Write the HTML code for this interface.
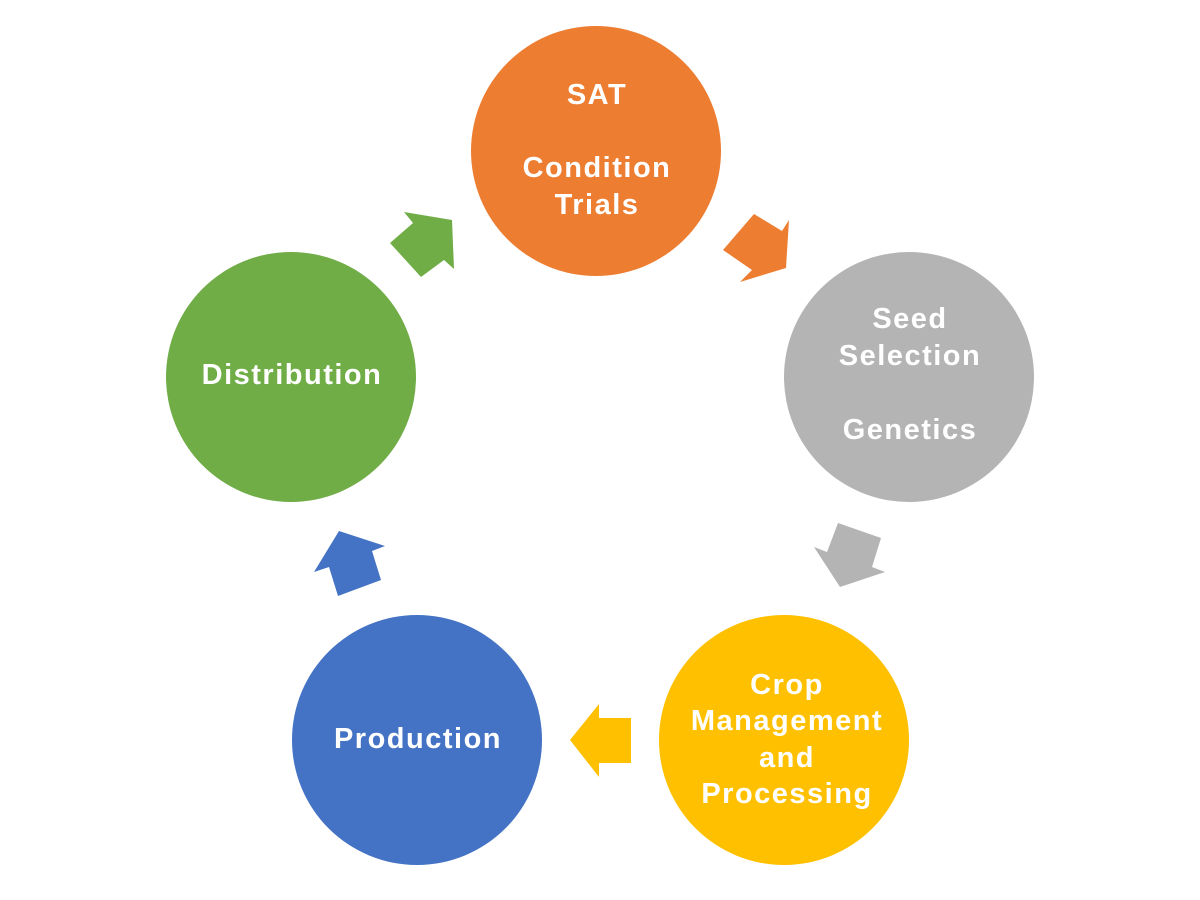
<!DOCTYPE html>
<html><head><style>
html,body{margin:0;padding:0;background:#fff;}
svg{display:block;}
text{font-family:"Liberation Sans","DejaVu Sans",sans-serif;font-weight:bold;font-size:29px;letter-spacing:1.5px;fill:#fff;text-anchor:middle;}
</style></head><body>
<svg width="1200" height="900" viewBox="0 0 1200 900">
<circle cx="596" cy="151" r="125" fill="#ED7D31"/>
<circle cx="909" cy="377" r="125" fill="#B4B4B4"/>
<circle cx="784" cy="740" r="125" fill="#FFC000"/>
<circle cx="417" cy="740" r="125" fill="#4472C4"/>
<circle cx="291" cy="377" r="125" fill="#70AD47"/>
<polygon points="754,214 782,231 789,220 786,268 740,282 752,270 723,250" fill="#ED7D31"/>
<polygon points="838,523 881,538 872,567 885,572 840,587 814,547 827,552" fill="#B4B4B4"/>
<polygon points="570,740 599,704 599,718 631,718 631,763 599,763 599,777" fill="#FFC000"/>
<polygon points="339,531 385,546 372,551 381,580 338,596 329,567 314,572" fill="#4472C4"/>
<polygon points="404,212 452,220 454,269 444,260 421,277 390,243 413,223" fill="#70AD47"/>
<text x="597" y="104">SAT</text>
<text x="597" y="177">Condition</text>
<text x="597" y="214">Trials</text>
<text x="910" y="328">Seed</text>
<text x="910" y="365">Selection</text>
<text x="910" y="439">Genetics</text>
<text x="787" y="694">Crop</text>
<text x="787" y="730">Management</text>
<text x="787" y="767">and</text>
<text x="787" y="803">Processing</text>
<text x="418" y="748">Production</text>
<text x="292" y="384">Distribution</text>
</svg>
</body></html>
